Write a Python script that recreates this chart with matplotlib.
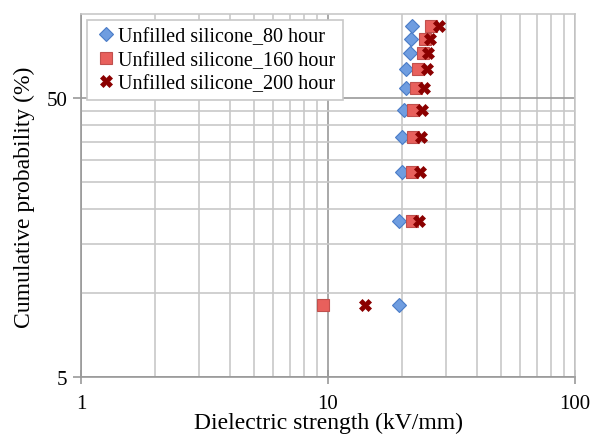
import matplotlib.pyplot as plt
from matplotlib.ticker import FixedLocator, NullFormatter, FixedFormatter

plt.rcParams['font.family'] = ['Liberation Serif', 'DejaVu Serif']

# cumulative probability (%) - mean rank i/(n+1), n = 10
prob = [9.09, 18.18, 27.27, 36.36, 45.45, 54.55, 63.64, 72.73, 81.82, 90.91]

# dielectric strength (kV/mm)
s80 = [19.4, 19.45, 19.9, 19.9, 20.4, 20.6, 20.7, 21.5, 21.6, 21.8]
s160 = [9.5, 21.8, 21.9, 22.0, 22.0, 22.7, 23.2, 24.3, 24.7, 26.1]
s200 = [14.1, 23.4, 23.6, 23.8, 23.95, 24.5, 25.1, 25.5, 25.9, 28.1]

labels = ["Unfilled silicone_80 hour", "Unfilled silicone_160 hour", "Unfilled silicone_200 hour"]


def main():
  fig = plt.figure(figsize=(5.94, 4.35), dpi=100)
  ax = fig.add_axes([0.1364, 0.1303, 0.968 - 0.1364, 0.9648 - 0.1303])

  ax.set_xscale('log')
  ax.set_yscale('log')
  ax.set_xlim(1, 100)
  ax.set_ylim(5, 100)

  ax.xaxis.set_major_locator(FixedLocator([1, 10, 100]))
  ax.xaxis.set_major_formatter(FixedFormatter(['1', '10', '100']))
  ax.xaxis.set_minor_locator(FixedLocator([2, 3, 4, 5, 6, 7, 8, 9, 20, 30, 40, 50, 60, 70, 80, 90]))
  ax.xaxis.set_minor_formatter(NullFormatter())

  ax.yaxis.set_major_locator(FixedLocator([5, 50]))
  ax.yaxis.set_major_formatter(FixedFormatter(['5', '50']))
  ax.yaxis.set_minor_locator(FixedLocator([10, 15, 20, 25, 30, 35, 40, 45]))
  ax.yaxis.set_minor_formatter(NullFormatter())

  ax.grid(True, which='minor', color='#c8c8c8', linewidth=1.2)
  ax.grid(True, which='major', color='#9a9a9a', linewidth=1.2)
  ax.set_axisbelow(True)

  for sp in ax.spines.values():
    sp.set_color('#c8c8c8')
    sp.set_linewidth(1.2)
  ax.spines['left'].set_color('#9a9a9a')
  ax.spines['bottom'].set_color('#9a9a9a')

  ax.tick_params(which='major', direction='out', length=6, color='#9a9a9a', width=1.2,
                 labelsize=15, pad=4)
  ax.tick_params(which='minor', length=0)
  ax.tick_params(axis='x', which='major', direction='inout', length=10, pad=7)

  ax.plot(s80, prob, linestyle='none', marker='D', markersize=7,
          markerfacecolor='#6f9de0', markeredgecolor='#4a7cc7', markeredgewidth=0.8,
          label=labels[0], zorder=3)
  ax.plot(s160, prob, linestyle='none', marker='s', markersize=8,
          markerfacecolor='#e8605c', markeredgecolor='#c0504d', markeredgewidth=0.8,
          label=labels[1], zorder=3)
  ax.plot(s200, prob, linestyle='none', marker='X', markersize=9,
          markerfacecolor='#8b0000', markeredgecolor='#8b0000', markeredgewidth=0.5,
          label=labels[2], zorder=4)

  ax.set_xlabel('Dielectric strength (kV/mm)', fontsize=17, labelpad=-1)
  ax.set_ylabel('Cumulative probability (%)', fontsize=17, labelpad=8)

  leg = ax.legend(loc='upper left', bbox_to_anchor=(0.0, 1.0), fontsize=14.5,
                  frameon=True, fancybox=False, borderpad=0.35, labelspacing=0.2,
                  handletextpad=0.0, handlelength=1.2, borderaxespad=0.3)
  leg.get_frame().set_edgecolor('#c8c8c8')
  leg.get_frame().set_linewidth(1.2)
  leg.get_frame().set_alpha(1.0)

  fig.savefig('out.png', dpi=100)


if __name__ == "__main__":
  main()
